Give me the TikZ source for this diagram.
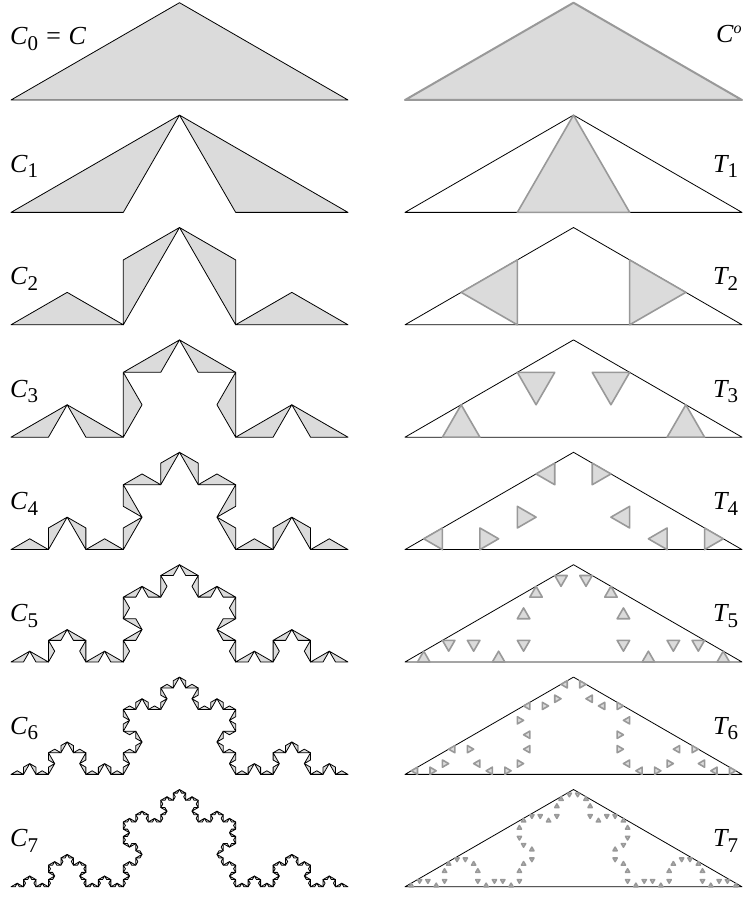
\documentclass[tikz,border=0pt]{standalone}
\usepackage{fontspec}
\setmainfont{Liberation Serif}
\definecolor{lgray}{gray}{0.86}
\definecolor{dgray}{gray}{0.6}
\def\hh{0.288675}
\newcommand\kochrec[2]{%
  \ifnum#1>0
    \begin{scope}[cm={0.5,\hh,\hh,-0.5,(0,0)}]
      \expandafter\kochrec\expandafter{\the\numexpr#1-1\relax}{#2}%
    \end{scope}
    \begin{scope}[cm={0.5,-\hh,-\hh,-0.5,(0.5,\hh)}]
      \expandafter\kochrec\expandafter{\the\numexpr#1-1\relax}{#2}%
    \end{scope}
  \else
    #2%
  \fi}
\newcommand\ctri{\filldraw[cpiece] (0,0) -- (1,0) -- (0.5,\hh) -- cycle;}
\newcommand\ttri{\filldraw[tpiece] (1/3,0) -- (2/3,0) -- (0.5,\hh) -- cycle;}
\newcommand\sbx[1]{\raisebox{-5.5pt}{\upshape\fontsize{21}{21}\selectfont #1}}
\newcommand\spx[1]{\raisebox{9pt}{\fontsize{16}{16}\selectfont #1}}
\tikzset{
  cpiece/.style={fill=lgray, draw=black, line width=0.8pt, line join=round},
  tpiece/.style={fill=lgray, draw=dgray, line width=1.6pt, line join=round},
  outline/.style={draw=black, line width=0.8pt, line join=round},
  panel/.style={scale=337/28.4528},
  lab/.style={font=\fontsize{26}{26}\selectfont\itshape, inner sep=0pt, anchor=base west},
}
\begin{document}
\begin{tikzpicture}
\useasboundingbox (0pt,0pt) rectangle (748pt,897pt);
% row 0
\begin{scope}[shift={(11pt,797pt)}, panel]
  \ctri
\end{scope}
\begin{scope}[shift={(405pt,797pt)}, panel]
  \filldraw[fill=lgray, draw=dgray, line width=2pt, line join=round] (0,0) -- (1,0) -- (0.5,\hh) -- cycle;
\end{scope}
\node[lab] (lc0) at (10pt,852pt) {C\sbx{0} = C};
\node[lab] (rc0) at (716pt,854pt) {C\spx{o}};
% rows 1..7
\foreach \k in {1,...,7}{
  \pgfmathsetmacro\by{797-112.4*\k}
  \pgfmathsetmacro\ly{837-112.4*\k}
  \begin{scope}[shift={(11pt,\by pt)}, panel]
    \kochrec{\k}{\ctri}
  \end{scope}
  \begin{scope}[shift={(405pt,\by pt)}, panel]
    \draw[outline] (0,0) -- (1,0) -- (0.5,\hh) -- cycle;
    \pgfmathtruncatemacro\kk{\k-1}
    \kochrec{\kk}{\ttri}
  \end{scope}
  \node[lab] (lc\k) at (10pt,\ly pt) {C\sbx{\k}};
  \node[lab] (rt\k) at (713pt,\ly pt) {T\sbx{\k}};
}
\end{tikzpicture}
\end{document}
